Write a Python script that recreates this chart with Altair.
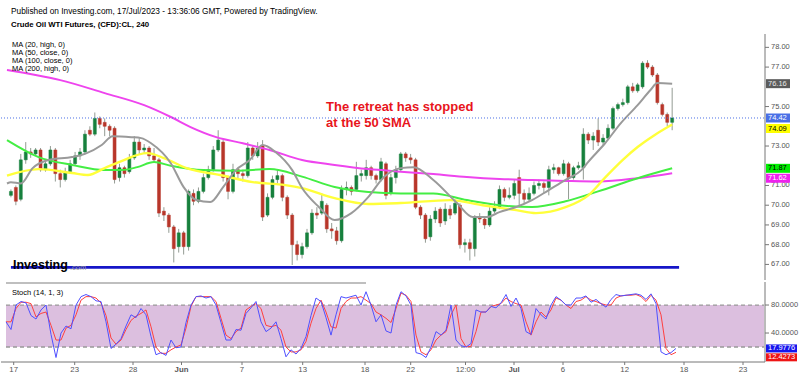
import altair as alt
import pandas as pd
import numpy as np

# ---------------- data ----------------
opens = [70.5,70.9,70.3,72.3,72.7,72.6,72.8,71.8,72.1,72.8,
         71.6,71.3,71.7,72.1,72.5,72.7,73.8,73.6,74.4,74.2,
         74.0,73.9,71.4,71.9,71.7,72.4,73.2,72.8,72.9,72.5,
         72.3,69.7,69.5,68.9,67.9,68.6,67.9,70.6,70.2,70.7,
         71.4,71.8,72.8,73.2,71.4,70.7,71.8,71.6,71.5,72.9,
         72.5,73.0,69.5,70.4,71.3,71.5,70.4,69.5,68.0,67.5,
         67.9,68.6,69.6,69.6,70.0,68.8,68.7,68.2,70.8,70.9,
         70.8,71.5,71.5,71.9,71.5,71.3,72.1,70.6,71.4,71.8,
         72.6,72.4,72.3,69.9,69.5,68.4,69.3,69.8,69.2,69.8,
         69.6,70.0,68.0,68.1,67.8,69.4,69.3,69.0,69.7,69.9,
         70.8,70.4,70.5,71.4,70.6,70.3,70.6,71.0,71.1,70.9,
         71.8,71.9,71.6,72.1,71.4,71.9,71.9,73.6,73.3,73.8,
         73.2,73.4,73.9,74.9,75.1,75.2,76.0,75.8,76.0,77.2,
         77.0,76.6,75.1,74.6,74.2]
highs = [70.8,71.0,72.6,73.2,72.9,72.9,72.9,72.3,73.0,72.9,
         71.8,71.9,72.3,72.7,72.9,73.8,74.0,74.7,74.5,74.4,
         74.1,74.0,72.1,72.0,72.6,73.5,73.4,73.1,73.0,72.9,
         72.4,69.9,69.6,69.0,68.8,68.7,70.8,70.8,70.9,71.6,
         72.0,73.0,73.8,73.3,71.5,72.1,71.9,71.8,73.2,73.0,
         73.2,73.3,70.6,71.5,71.8,71.6,70.5,69.6,68.2,68.1,
         68.8,69.8,69.9,70.6,70.1,69.1,68.9,71.0,71.2,71.0,
         72.2,71.8,72.3,72.0,71.6,72.4,72.2,71.6,72.0,72.7,
         72.7,72.6,72.4,70.0,69.6,69.5,69.9,69.9,70.1,70.0,
         70.3,70.1,68.3,68.3,69.5,69.6,69.4,69.9,70.2,71.0,
         70.9,70.9,71.3,71.8,70.8,70.9,71.2,71.3,71.2,72.0,
         72.1,71.95,72.3,72.2,72.0,72.2,73.9,73.7,73.7,74.4,
         73.6,74.1,75.0,75.2,75.4,76.1,76.2,76.2,77.3,77.35,
         77.1,76.7,75.2,74.7,75.95]
lows = [70.4,70.0,70.2,72.1,72.4,72.5,71.7,71.7,72.0,71.2,
        70.9,71.2,71.6,72.0,72.3,72.6,73.5,73.5,73.9,73.5,
        73.5,71.1,71.2,71.4,71.6,72.3,72.6,72.6,72.3,72.2,
        69.4,69.2,68.6,67.1,67.6,67.5,67.7,70.0,70.1,70.6,
        71.3,71.7,72.7,71.2,70.3,70.6,71.3,71.2,71.4,72.3,
        72.4,69.2,69.4,70.3,71.1,70.2,69.3,66.97,67.2,67.3,
        67.8,68.5,69.3,69.5,68.6,68.3,68.0,68.1,70.5,70.5,
        70.7,71.2,71.3,71.3,71.1,71.2,70.3,70.5,71.1,71.7,
        72.2,72.1,69.8,69.3,68.1,68.2,69.1,68.9,69.0,69.3,
        69.5,67.8,67.6,67.2,67.4,69.1,68.8,68.9,69.6,69.8,
        70.2,70.3,70.3,70.0,70.1,70.2,70.5,70.8,70.6,70.5,
        71.6,71.5,71.5,70.3,71.3,71.8,71.3,73.1,72.8,73.0,
        73.0,73.3,73.8,74.8,75.0,75.1,75.7,75.7,75.9,76.9,
        76.5,75.1,74.5,74.0,73.8]
closes = [70.7,70.2,72.3,72.7,72.6,72.8,71.8,72.1,72.8,71.6,
          71.3,71.7,72.1,72.5,72.7,73.6,73.6,74.4,74.1,74.0,
          73.8,71.3,71.9,71.6,72.4,73.2,72.8,72.9,72.5,72.3,
          69.6,69.5,68.9,67.8,68.6,67.9,70.7,70.2,70.7,71.4,
          71.8,72.8,73.3,71.4,70.7,71.8,71.6,71.5,72.9,72.5,
          72.9,69.4,70.4,71.3,71.5,70.4,69.5,68.0,67.5,67.9,
          68.6,69.6,69.5,70.2,68.8,68.7,68.2,70.8,70.9,70.7,
          71.5,71.6,71.9,71.5,71.3,72.2,70.5,71.4,71.8,72.6,
          72.4,72.3,69.9,69.5,68.3,69.3,69.7,69.1,69.8,69.5,
          70.1,68.0,68.1,67.8,69.4,69.3,69.0,69.7,69.9,70.8,
          70.4,70.5,71.1,70.6,70.3,70.6,71.0,71.1,70.9,71.8,
          71.9,71.6,72.1,71.4,71.9,72.0,73.6,73.3,73.5,73.2,
          73.4,73.9,74.9,75.1,75.2,76.0,75.8,76.1,77.2,77.0,
          76.6,75.2,74.6,74.2,74.42]

# moving averages: bar positions and values
ma20_pos = [-0.8,0,2,4.4,7.6,12.4,15,18.4,20.6,24.4,26.4,28.4,32.4,35,37.6,40.4,43,45.6,48.4,51,
            53.6,57,59,62.4,65.6,69,72.4,75.6,79,81.6,85.6,90.4,93.6,96.4,99,102.4,105.6,109,112.4,
            115.6,117,120.4,123.6,127,129.6,131,134]
ma20 = [71.1,71.17,71.1,71.88,72.29,72.44,72.6,73.05,73.5,73.45,73.4,73.14,72.13,70.92,70.26,70.16,
        70.92,71.78,72.29,73.05,72.7,71.78,70.87,69.91,69.25,69.6,70.41,71.43,71.88,71.93,71.28,70.11,
        69.4,69.4,69.65,69.91,70.26,70.77,71.28,71.78,72.2,73.14,74.16,75.07,75.84,76.19,76.16]
ma50_pos = [-0.8,5.6,12.4,15.6,19,22.4,27.6,31,35.6,42.4,49,55.6,59,65.6,72.4,79,89,95.6,102.4,
            106.4,112.4,117,120.4,124,127,130.4,134]
ma50 = [71.5,71.83,71.63,71.53,71.88,72.24,72.64,72.39,71.88,71.53,71.17,71.02,70.87,70.36,70.06,
        70.11,70.26,70.0,69.75,69.6,69.9,70.5,71.4,72.3,72.95,73.55,74.09]
ma100_pos = [-0.8,5.6,12.4,19,22.4,25.6,29,32.4,39,45.6,52.4,59,65.6,72.4,79,85.6,92.4,99,105.6,
             112.4,119,127,134]
ma100 = [73.3,72.44,72.04,71.78,71.78,71.93,72.19,72.0,71.78,71.75,71.83,71.45,70.92,70.67,70.6,
         70.6,70.26,70.0,69.91,70.2,70.7,71.37,71.87]
ma200_pos = [-0.8,5,10,19,27,32.4,36.4,41.6,47,52.4,59,65.6,72.4,79,85.6,92.4,99,105.6,112.4,119,
             127,134]
ma200 = [76.85,76.6,76.34,75.68,75.07,74.47,73.96,73.45,73.14,72.8,72.29,72.04,71.83,71.7,71.58,
         71.43,71.33,71.28,71.23,71.2,71.37,71.62]

# stochastic (14,1,3): one value per bar
stoch_k = [56,45,80,85,83,65,60,73,80,38,
           5,40,50,46,80,92,95,92,86,85,
           56,18,24,32,50,66,62,75,66,35,
           9,12,8,30,19,20,55,80,92,93,
           90,92,80,55,30,30,45,44,68,76,
           85,56,42,47,56,32,6,16,10,18,
           35,65,90,85,62,37,66,92,90,92,
           94,80,99,80,56,66,43,40,80,99,
           93,80,12,10,5,20,42,37,44,80,
           30,22,20,25,73,70,70,78,76,83,
           95,78,90,75,42,38,75,66,60,80,
           92,87,80,80,90,90,93,84,88,82,
           77,88,95,93,94,95,96,94,88,96,
           82,13,9,12,17.9776]
stoch_d = [56,56,75,84,84,82,63,68,70,51,
           30,30,47,51,66,87,92,92,90,83,
           65,33,24,30,45,58,64,68,73,49,
           20,11,11,16,20,23,47,78,92,92,
           92,92,85,61,37,32,42,47,73,78,
           82,75,51,49,51,44,20,13,13,16,
           28,54,75,87,70,49,47,75,85,90,
           90,92,87,82,70,66,61,55,75,97,
           94,85,37,13,9,16,30,37,42,66,
           80,32,20,21,42,70,70,78,80,82,
           90,85,82,80,56,37,56,70,63,73,
           90,87,80,75,85,87,92,87,85,82,
           80,80,90,93,94,94,95,92,85,94,
           87,66,18,9,12.4273]

last_price = 74.42
support_level = 66.85
support_span = [0, 135.4]
price_tags = [76.16, 74.42, 74.09, 71.87, 71.62]
stoch_tags = [17.9776, 12.4273]
band_levels = [20, 80]
price_ticks = [67, 68, 69, 70, 71, 73, 75, 77, 78]   # 72, 74, 76 sit under the price tags
stoch_ticks = [40, 80]
tick_pos = [1.54, 13.74, 25.4, 35.1, 47.2, 59.34, 71.8, 80.94, 91.9, 101.6, 111.4, 123.74, 135.6, 147.4]
tick_labels = ["17", "23", "28", "Jun", "7", "13", "18", "22", "12:00", "Jul", "6", "12", "18", "23"]
month_labels = ["Jun", "Jul"]

# ---------------- styling / layout ----------------
FONT = "Liberation Sans"
W, TOP_H, BOT_H = 764, 280, 80
AX = "#777777"
LAB = "#555555"
xs = alt.Scale(domain=[-1, 151.8], nice=False, zero=False)
ys = alt.Scale(domain=[66.21, 80.40], nice=False, zero=False)
ss = alt.Scale(domain=[-1.4, 112.9], nice=False, zero=False)
dir_scale = alt.Scale(domain=["up", "down"], range=["#17803d", "#b8362a"])
tag_bg = ["#5b5b5b", "#4a70e6", "#ffff00", "#00ee00", "#ee22ee"]
tag_fg = ["#e8e8e8", "#ffffff", "#000000", "#000000", "#ffffff"]
tag_nudge = [0, 0, 4, 0, 5]
stag_bg = ["#1515ee", "#ee1515"]
stag_nudge = [0, 5]

n = len(closes)
cdf = pd.DataFrame({"i": list(range(n)), "open": opens, "high": highs,
                    "low": lows, "close": closes})
cdf["lo"] = cdf[["open", "close"]].min(axis=1)
cdf["hi"] = cdf[["open", "close"]].max(axis=1)
cdf["dir"] = np.where(cdf["close"] >= cdf["open"], "up", "down")

dummy = pd.DataFrame({"d": [0]})


def X(field="i"):
    return alt.X(f"{field}:Q", scale=xs, axis=None)


def Yp(field="v"):
    return alt.Y(f"{field}:Q", scale=ys, axis=None)


def Ys(field="v"):
    return alt.Y(f"{field}:Q", scale=ss, axis=None)


def txt(text, x, y, size, color="#000000", weight="normal", align="left", baseline="middle"):
    return alt.Chart(dummy).mark_text(
        font=FONT, fontSize=size, fontWeight=weight, color=color,
        align=align, baseline=baseline
    ).encode(x=alt.value(x), y=alt.value(y), text=alt.value(text))


wick = alt.Chart(cdf).mark_rule(color="#939b93", strokeWidth=1).encode(
    x=X(), y=Yp("low"), y2="high:Q")
body = alt.Chart(cdf).mark_bar(size=3, strokeWidth=0.5).encode(
    x=X(), y=Yp("lo"), y2="hi:Q",
    color=alt.Color("dir:N", scale=dir_scale, legend=None),
    stroke=alt.Stroke("dir:N", scale=dir_scale, legend=None))


def ma_line(pos, vals, color, w):
    df = pd.DataFrame({"i": pos, "v": vals})
    return alt.Chart(df).mark_line(color=color, strokeWidth=w, interpolate="monotone").encode(
        x=X(), y=Yp())


support = alt.Chart(pd.DataFrame({"i": [support_span[0]], "i2": [support_span[1]], "v": [support_level]})
                    ).mark_rule(color="#1616c8", strokeWidth=2.6).encode(x=X(), x2="i2:Q", y=Yp())

last_line = alt.Chart(pd.DataFrame({"v": [last_price]})).mark_rule(
    color="#4a70e6", strokeWidth=1, strokeDash=[1, 2]).encode(
    x=alt.value(0), x2=alt.value(W), y=Yp())

axis_line = alt.Chart(dummy).mark_rule(color=AX, strokeWidth=1).encode(
    x=alt.value(W), y=alt.value(34), y2=alt.value(TOP_H))

ptick_df = pd.DataFrame({"v": price_ticks})
price_tick_marks = alt.Chart(ptick_df).mark_rule(color=AX, strokeWidth=1).encode(
    x=alt.value(W), x2=alt.value(W + 4), y=Yp())
price_tick_labels = alt.Chart(ptick_df).mark_text(
    font=FONT, fontSize=7.5, color=LAB, align="left", baseline="middle").encode(
    x=alt.value(W + 6), y=Yp(), text=alt.Text("v:Q", format=".2f"))

top_layers = [wick, body,
              ma_line(ma200_pos, ma200, "#ee44ee", 2),
              ma_line(ma100_pos, ma100, "#44ee44", 2),
              ma_line(ma50_pos, ma50, "#ffff3a", 2.4),
              ma_line(ma20_pos, ma20, "#9a9a9a", 2),
              support, last_line, axis_line, price_tick_marks, price_tick_labels]

for v, bg, fg, nd in zip(price_tags, tag_bg, tag_fg, tag_nudge):
    d = pd.DataFrame({"v": [v]})
    top_layers.append(alt.Chart(d).mark_rect(color=bg, yOffset=nd - 4.5, y2Offset=nd + 4.5).encode(
        x=alt.value(W + 1), x2=alt.value(W + 25), y=Yp(), y2="v:Q"))
    top_layers.append(alt.Chart(d).mark_text(font=FONT, fontSize=7.5, color=fg, align="left",
                                             baseline="middle", dy=nd).encode(
        x=alt.value(W + 3), y=Yp(), text=alt.Text("v:Q", format=".2f")))

top_layers += [
    txt("Published on Investing.com, 17/Jul/2023 - 13:36:06 GMT, Powered by TradingView.", 10, 11.5, 8.3),
    txt("Crude Oil WTI Futures, (CFD):CL, 240", 10, 25, 7.8, weight="bold"),
    txt("MA (20, high, 0)", 11, 44.5, 7.5),
    txt("MA (50, close, 0)", 11, 53, 7.5),
    txt("MA (100, close, 0)", 11, 61, 7.5),
    txt("MA (200, high, 0)", 11, 69.3, 7.5),
    txt("The retreat has stopped", 325, 111, 13, color="#e8141c", weight="bold", baseline="alphabetic"),
    txt("at the 50 SMA", 325, 126.5, 13, color="#e8141c", weight="bold", baseline="alphabetic"),
    txt("Investing", 12, 269, 12.5, weight="bold", baseline="alphabetic"),
    txt(".com", 69, 270, 7.5, color="#999999", baseline="alphabetic"),
]

top = alt.layer(*top_layers).properties(width=W, height=TOP_H)

# ---------------- stochastic panel ----------------
sdf = pd.DataFrame({"i": list(range(len(stoch_k))), "k": stoch_k, "d": stoch_d})
xt = pd.DataFrame({"p": tick_pos, "lab": tick_labels})
xt["month"] = xt["lab"].isin(month_labels)

band = alt.Chart(pd.DataFrame({"lo": [band_levels[0]], "hi": [band_levels[1]]})).mark_rect(
    color="#dcbfdf").encode(x=alt.value(5), x2=alt.value(763), y=Ys("lo"), y2="hi:Q")
band_lines = alt.Chart(pd.DataFrame({"v": band_levels})).mark_rule(
    color="#999999", strokeWidth=1.3, strokeDash=[4, 3]).encode(
    x=alt.value(5), x2=alt.value(763), y=Ys())
k_line = alt.Chart(sdf).mark_line(color="#5050ff", strokeWidth=1).encode(x=X(), y=Ys("k"))
d_line = alt.Chart(sdf).mark_line(color="#ff4040", strokeWidth=1).encode(x=X(), y=Ys("d"))
sep = alt.Chart(dummy).mark_rule(color="#aaaaaa", strokeWidth=1.5).encode(
    x=alt.value(5), x2=alt.value(365), y=alt.value(1))
vaxis = alt.Chart(dummy).mark_rule(color=AX, strokeWidth=1).encode(
    x=alt.value(W), y=alt.value(0), y2=alt.value(BOT_H))
haxis = alt.Chart(dummy).mark_rule(color=AX, strokeWidth=1).encode(
    x=alt.value(0), x2=alt.value(W), y=alt.value(BOT_H))
stick_df = pd.DataFrame({"v": stoch_ticks})
stoch_tick_marks = alt.Chart(stick_df).mark_rule(color=AX, strokeWidth=1).encode(
    x=alt.value(W), x2=alt.value(W + 4), y=Ys())
stoch_tick_labels = alt.Chart(stick_df).mark_text(
    font=FONT, fontSize=7.5, color=LAB, align="left", baseline="middle").encode(
    x=alt.value(W + 6), y=Ys(), text=alt.Text("v:Q", format=".4f"))
xtick_marks = alt.Chart(xt).mark_rule(color=AX, strokeWidth=1).encode(
    x=X("p"), y=alt.value(BOT_H), y2=alt.value(BOT_H + 3))
xlab_norm = alt.Chart(xt).transform_filter("!datum.month").mark_text(
    font=FONT, fontSize=7.8, color=LAB, align="center", baseline="middle").encode(
    x=X("p"), y=alt.value(BOT_H + 7.5), text="lab:N")
xlab_month = alt.Chart(xt).transform_filter("datum.month").mark_text(
    font=FONT, fontSize=7.8, fontWeight="bold", color=LAB, align="center", baseline="middle").encode(
    x=X("p"), y=alt.value(BOT_H + 7.5), text="lab:N")

bot_layers = [band, band_lines, d_line, k_line, sep, vaxis, haxis,
              stoch_tick_marks, stoch_tick_labels, xtick_marks, xlab_norm, xlab_month,
              txt("Stoch (14, 1, 3)", 11, 11, 7.5)]
for v, bg, nd in zip(stoch_tags, stag_bg, stag_nudge):
    d = pd.DataFrame({"v": [v]})
    bot_layers.append(alt.Chart(d).mark_rect(color=bg, yOffset=nd - 4, y2Offset=nd + 4).encode(
        x=alt.value(W + 1), x2=alt.value(W + 32), y=Ys(), y2="v:Q"))
    bot_layers.append(alt.Chart(d).mark_text(font=FONT, fontSize=7.5, color="#ffffff", align="left",
                                             baseline="middle", dy=nd).encode(
        x=alt.value(W + 3), y=Ys(), text=alt.Text("v:Q", format=".4f")))

bottom = alt.layer(*bot_layers).properties(width=W, height=BOT_H)

chart = alt.vconcat(top, bottom, spacing=0).properties(
    padding=0, background="white"
).configure_view(stroke=None)

chart.save("out.html", embed_options={"renderer": "svg", "actions": False})
